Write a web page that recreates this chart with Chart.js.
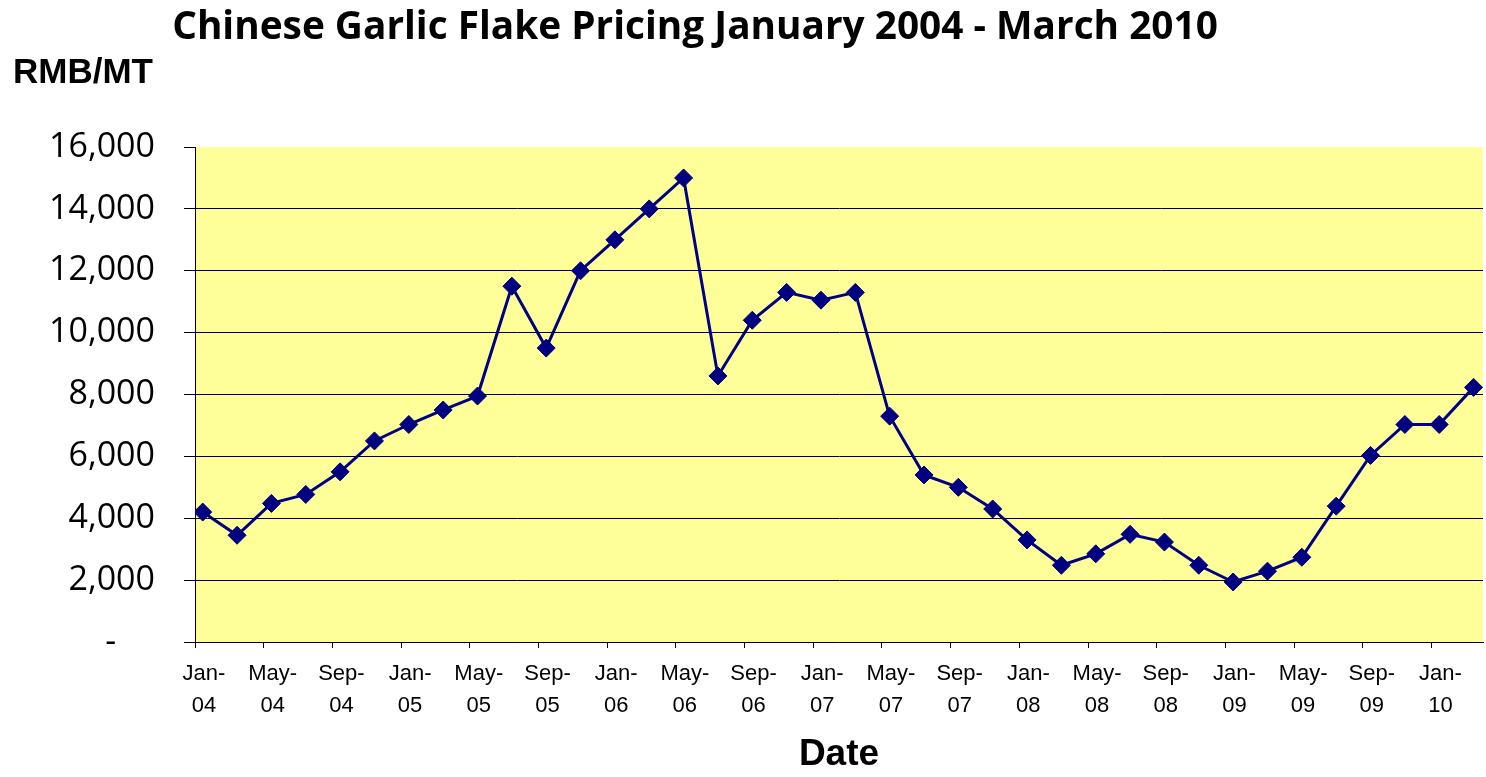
<!DOCTYPE html>
<html>
<head>
<meta charset="utf-8">
<title>Chinese Garlic Flake Pricing</title>
<script src="https://cdn.jsdelivr.net/npm/chart.js@4.4.1/dist/chart.umd.min.js"></script>
<style>
  html, body { margin: 0; padding: 0; background: #fff; }
  #wrap { width: 1486px; height: 777px; }
</style>
</head>
<body>
<div id="wrap"><canvas id="chart" width="1486" height="777"></canvas></div>
<script>
// data (bi-monthly, RMB per metric ton)
const months = [
    "Jan-04", "Mar-04", "May-04", "Jul-04", "Sep-04", "Nov-04",
    "Jan-05", "Mar-05", "May-05", "Jul-05", "Sep-05", "Nov-05",
    "Jan-06", "Mar-06", "May-06", "Jul-06", "Sep-06", "Nov-06",
    "Jan-07", "Mar-07", "May-07", "Jul-07", "Sep-07", "Nov-07",
    "Jan-08", "Mar-08", "May-08", "Jul-08", "Sep-08", "Nov-08",
    "Jan-09", "Mar-09", "May-09", "Jul-09", "Sep-09", "Nov-09",
    "Jan-10", "Mar-10",
];
const prices = [
    4200, 3450, 4480, 4770, 5500, 6500,
    7030, 7500, 7950, 11500, 9500, 12000,
    13000, 14000, 15000, 8600, 10400, 11300,
    11050, 11300, 7300, 5400, 5000, 4300,
    3300, 2480, 2850, 3480, 3230, 2480,
    1940, 2290, 2740, 4390, 6030, 7030,
    7030, 8230,
];
const tickLabels = [
    "Jan-04", "May-04", "Sep-04", "Jan-05", "May-05", "Sep-05",
    "Jan-06", "May-06", "Sep-06", "Jan-07", "May-07", "Sep-07",
    "Jan-08", "May-08", "Sep-08", "Jan-09", "May-09", "Sep-09",
    "Jan-10",
];
const yTicks = [0, 2000, 4000, 6000, 8000, 10000, 12000, 14000, 16000];

const monthNames = ["Jan", "Feb", "Mar", "Apr", "May", "Jun", "Jul", "Aug", "Sep", "Oct", "Nov", "Dec"];

// "Jan-04" -> months since Jan 2004
const monthIndex = (label) => {
    const [m, yy] = label.split("-");
    return (parseInt(yy, 10) - 4) * 12 + monthNames.indexOf(m);
};

// prices are mid-month readings, ticks sit on the 1st
const points = months.map((m, i) => ({ x: monthIndex(m) + 0.45, y: prices[i] }));

const NAVY = "#000080";

const decorations = {
    id: "decorations",
    beforeDraw(chart) {
        const { ctx, chartArea: a } = chart;
        ctx.save();
        ctx.fillStyle = "#ffff99";
        ctx.fillRect(a.left, a.top, a.right - a.left, a.bottom - a.top);
        ctx.restore();
    },
    afterDraw(chart) {
        const { ctx } = chart;
        ctx.save();
        ctx.fillStyle = "#000";
        ctx.textBaseline = "alphabetic";

        // title, squeezed to the width it has in the reference
        const title = "Chinese Garlic Flake Pricing January 2004 - March 2010";
        let size = 36;
        ctx.font = `bold ${size}px "Open Sans"`;
        const w = ctx.measureText(title).width;
        size = size * 1046 / w;
        ctx.font = `bold ${size}px "Open Sans"`;
        ctx.textAlign = "center";
        ctx.fillText(title, 695, 39);

        ctx.font = 'bold 35px "Liberation Sans"';
        ctx.textAlign = "left";
        ctx.fillText("RMB/MT", 13, 83);
        ctx.restore();
    },
};

new Chart(document.getElementById("chart"), {
    type: "line",
    data: {
        datasets: [
            {
                label: "RMB/MT",
                data: points,
                borderColor: NAVY,
                borderWidth: 3,
                backgroundColor: NAVY,
                pointStyle: "rectRot",
                pointRadius: 9,
                pointBorderWidth: 1,
                pointBackgroundColor: NAVY,
                pointBorderColor: NAVY,
                tension: 0,
            },
        ],
    },
    options: {
        responsive: false,
        animation: false,
        layout: { autoPadding: false, padding: { top: 147, right: 3, left: 0, bottom: 0 } },
        plugins: {
            legend: { display: false },
            title: { display: false },
            tooltip: { enabled: false },
        },
        scales: {
            x: {
                type: "linear",
                min: 0,
                max: 75,
                afterBuildTicks: (scale) => {
                    scale.ticks = tickLabels.map((l) => ({ value: monthIndex(l) }));
                },
                afterFit: (scale) => {
                    scale.height = 135;
                },
                grid: {
                    drawOnChartArea: false,
                    drawTicks: true,
                    tickLength: 6,
                    color: "#000",
                },
                border: { display: true, color: "#000", width: 1 },
                ticks: {
                    autoSkip: false,
                    maxRotation: 0,
                    minRotation: 0,
                    labelOffset: 9,
                    padding: 10,
                    color: "#000",
                    font: { family: '"Liberation Sans"', size: 22, lineHeight: 1.45 },
                    callback: (v) => {
                        const l = tickLabels.find((t) => monthIndex(t) === v);
                        if (!l) return "";
                        const [m, yy] = l.split("-");
                        return [m + "-", yy];
                    },
                },
                title: {
                    display: true,
                    text: "Date",
                    color: "#000",
                    font: { family: '"Liberation Sans"', size: 37, weight: "bold" },
                    padding: { top: 14, bottom: 0 },
                },
            },
            y: {
                min: 0,
                max: 16000,
                afterBuildTicks: (scale) => {
                    scale.ticks = yTicks.map((v) => ({ value: v }));
                },
                afterFit: (scale) => {
                    scale.width = 195;
                },
                grid: {
                    color: (c) => (c.tick && c.tick.value === 16000 ? "rgba(0,0,0,0)" : "#000"),
                    tickColor: "#000",
                    tickLength: 11,
                    lineWidth: 1,
                },
                border: { display: true, color: "#000", width: 1 },
                ticks: {
                    padding: 29,
                    color: "#000",
                    font: { family: '"Open Sans"', size: 34 },
                    callback: (v) => (v === 0 ? "-\u2007\u2007" : v.toLocaleString("en-US")),
                },
            },
        },
    },
    plugins: [decorations],
});
</script>
</body>
</html>
